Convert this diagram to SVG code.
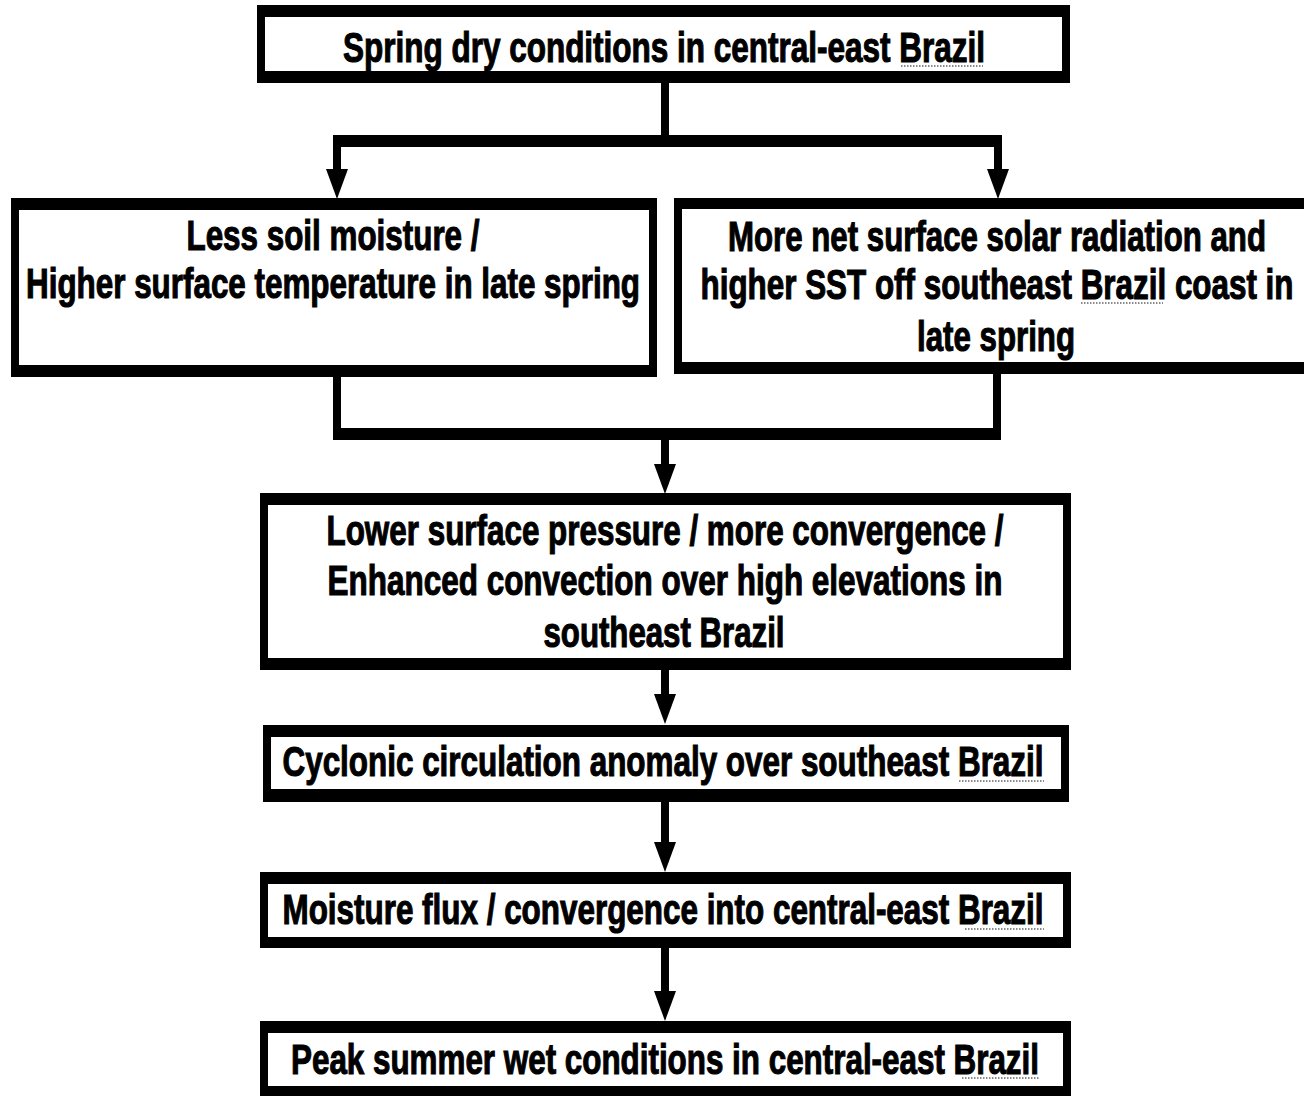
<svg xmlns="http://www.w3.org/2000/svg" xmlns:xlink="http://www.w3.org/1999/xlink" width="1304" height="1096" viewBox="0 0 1304 1096">
<style>
.frame{fill:#000}
.inner{fill:#fff}
.t{font-family:"Liberation Sans",Arial,sans-serif;font-weight:bold;font-size:42px;fill:#000;stroke:#000;stroke-width:1.1;text-anchor:middle}
.v{stroke:#000;stroke-width:8;fill:none}
.h{stroke:#000;stroke-width:12;fill:none}
.sp{stroke:#8a8a8a;stroke-width:2;stroke-dasharray:1.5 1.5;fill:none}
</style>
<defs>
<path id="ah" d="M-11,-30 L11,-30 L0,0 Z" fill="#000"/>
</defs>
<rect width="1304" height="1096" fill="#fff"/>
<g id="connectors">
<line class="v" x1="665" y1="82" x2="665" y2="141"/>
<line class="h" x1="333" y1="141" x2="1002" y2="141"/>
<line class="v" x1="337" y1="141" x2="337" y2="172"/>
<line class="v" x1="998" y1="141" x2="998" y2="172"/>
<use xlink:href="#ah" href="#ah" x="337" y="199"/>
<use xlink:href="#ah" href="#ah" x="998" y="199"/>
<line class="v" x1="337" y1="376" x2="337" y2="434"/>
<line class="v" x1="997" y1="372" x2="997" y2="434"/>
<line class="h" x1="333" y1="434" x2="1001" y2="434"/>
<line class="v" x1="665" y1="434" x2="665" y2="466"/>
<use xlink:href="#ah" href="#ah" x="665" y="494"/>
<line class="v" x1="665" y1="668" x2="665" y2="696"/>
<use xlink:href="#ah" href="#ah" x="665" y="724"/>
<line class="v" x1="665" y1="801" x2="665" y2="842"/>
<use xlink:href="#ah" href="#ah" x="665" y="872"/>
<line class="v" x1="665" y1="947" x2="665" y2="992"/>
<use xlink:href="#ah" href="#ah" x="665" y="1021"/>
</g>
<g id="n1">
<rect class="frame" x="257" y="5" width="813" height="78"/>
<rect class="inner" x="265" y="17" width="797" height="54"/>
<text class="t" x="664" y="62" textLength="642" lengthAdjust="spacingAndGlyphs">Spring dry conditions in central-east Brazil</text>
<line class="sp" x1="901" y1="66" x2="983" y2="66"/>
</g>
<g id="n2">
<rect class="frame" x="11" y="198" width="646" height="179"/>
<rect class="inner" x="19" y="210" width="630" height="155"/>
<text class="t" x="333" y="250" textLength="293" lengthAdjust="spacingAndGlyphs">Less soil moisture /</text>
<text class="t" x="333" y="298" textLength="614" lengthAdjust="spacingAndGlyphs">Higher surface temperature in late spring</text>
</g>
<g id="n3">
<rect class="frame" x="674" y="198" width="640" height="176"/>
<rect class="inner" x="682" y="209" width="640" height="153"/>
<text class="t" x="997" y="251" textLength="538" lengthAdjust="spacingAndGlyphs">More net surface solar radiation and</text>
<text class="t" x="997" y="299" textLength="593" lengthAdjust="spacingAndGlyphs">higher SST off southeast Brazil coast in</text>
<text class="t" x="996" y="351" textLength="158" lengthAdjust="spacingAndGlyphs">late spring</text>
<line class="sp" x1="1081" y1="303" x2="1163" y2="303"/>
</g>
<g id="n4">
<rect class="frame" x="260" y="493" width="811" height="177"/>
<rect class="inner" x="268" y="505" width="795" height="153"/>
<text class="t" x="665" y="545" textLength="677" lengthAdjust="spacingAndGlyphs">Lower surface pressure / more convergence /</text>
<text class="t" x="665" y="595" textLength="675" lengthAdjust="spacingAndGlyphs">Enhanced convection over high elevations in</text>
<text class="t" x="664" y="647" textLength="241" lengthAdjust="spacingAndGlyphs">southeast Brazil</text>
</g>
<g id="n5">
<rect class="frame" x="263" y="725" width="806" height="77"/>
<rect class="inner" x="271" y="737" width="790" height="52"/>
<text class="t" x="663" y="776" textLength="761" lengthAdjust="spacingAndGlyphs">Cyclonic circulation anomaly over southeast Brazil</text>
<line class="sp" x1="959" y1="781" x2="1044" y2="781"/>
</g>
<g id="n6">
<rect class="frame" x="260" y="872" width="811" height="76"/>
<rect class="inner" x="268" y="884" width="795" height="53"/>
<text class="t" x="663" y="924" textLength="761" lengthAdjust="spacingAndGlyphs">Moisture flux / convergence into central-east Brazil</text>
<line class="sp" x1="965" y1="929" x2="1044" y2="929"/>
</g>
<g id="n7">
<rect class="frame" x="260" y="1021" width="811" height="75"/>
<rect class="inner" x="268" y="1033" width="795" height="53"/>
<text class="t" x="665" y="1074" textLength="748" lengthAdjust="spacingAndGlyphs">Peak summer wet conditions in central-east Brazil</text>
<line class="sp" x1="962" y1="1078" x2="1039" y2="1078"/>
</g>
</svg>
